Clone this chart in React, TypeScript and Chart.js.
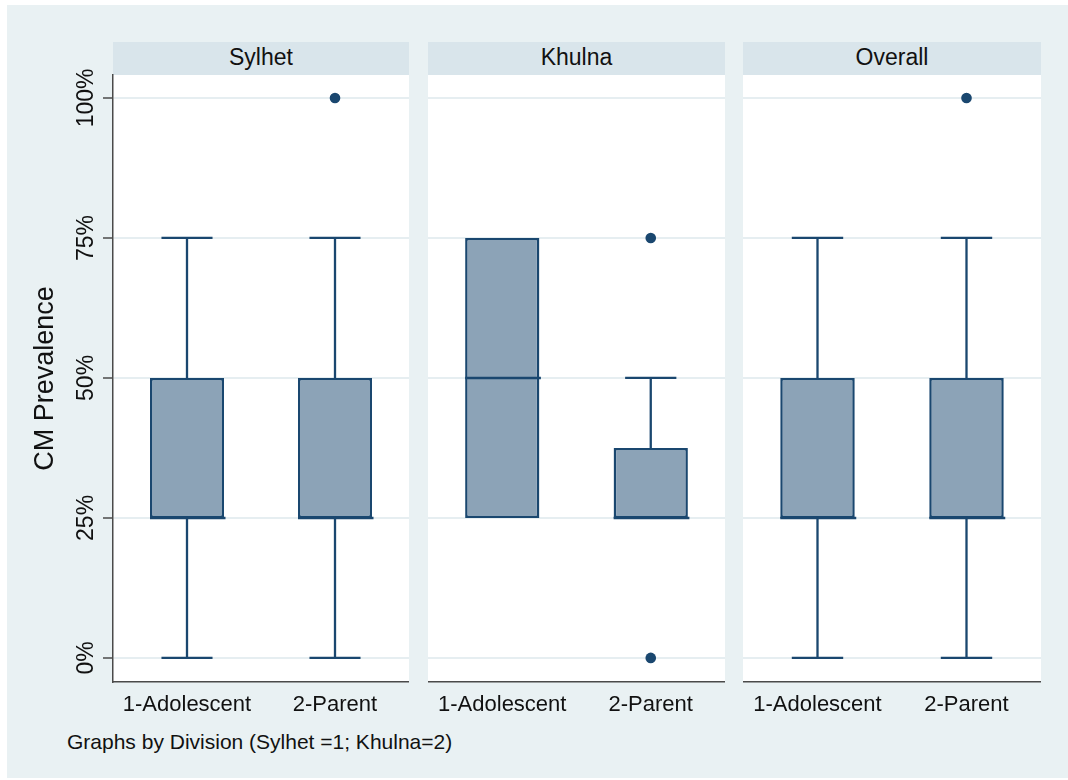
import React, { useEffect, useRef } from 'react';
import { Chart, registerables } from 'chart.js';

Chart.register(...registerables);

// ---------------- data ----------------
const categories = ['1-Adolescent', '2-Parent'];
const panelTitles = ['Sylhet', 'Khulna', 'Overall'];
const yTicks = [0, 25, 50, 75, 100];
const yAxisTitle = 'CM Prevalence';
const footnote = 'Graphs by Division (Sylhet =1; Khulna=2)';

// Sylhet
const sylhetLow = [0, 0];
const sylhetQ1 = [25, 25];
const sylhetMedian = [25, 25];
const sylhetQ3 = [50, 50];
const sylhetHigh = [75, 75];
const sylhetOutliers = [[], [100]];

// Khulna
const khulnaLow = [25, 25];
const khulnaQ1 = [25, 25];
const khulnaMedian = [50, 25];
const khulnaQ3 = [75, 37.5];
const khulnaHigh = [75, 50];
const khulnaOutliers = [[], [75, 0]];

// Overall
const overallLow = [0, 0];
const overallQ1 = [25, 25];
const overallMedian = [25, 25];
const overallQ3 = [50, 50];
const overallHigh = [75, 75];
const overallOutliers = [[], [100]];

const yMin = -4.3;
const yMax = 104.1;

// ---------------- style ----------------
const FONT = '"Liberation Sans", Arial, Helvetica, sans-serif';
const NAVY = '#1a476f';
const BOX_FILL = '#8ca3b7';
const GRID = '#e6eef1';
const AXIS = '#4a4a4a';
const TEXT = '#111111';
const BG = '#e9f1f3';
const STRIP = '#d9e5eb';

type Stats = {
  low: number[];
  q1: number[];
  median: number[];
  q3: number[];
  high: number[];
  outliers: number[][];
};

const panelStats: Stats[] = [
  { low: sylhetLow, q1: sylhetQ1, median: sylhetMedian, q3: sylhetQ3, high: sylhetHigh, outliers: sylhetOutliers },
  { low: khulnaLow, q1: khulnaQ1, median: khulnaMedian, q3: khulnaQ3, high: khulnaHigh, outliers: khulnaOutliers },
  { low: overallLow, q1: overallQ1, median: overallMedian, q3: overallQ3, high: overallHigh, outliers: overallOutliers },
];

// white plot region
const plotBgPlugin = {
  id: 'plotBg',
  beforeDraw(chart: any) {
    const { ctx, chartArea } = chart;
    if (!chartArea) return;
    ctx.save();
    ctx.fillStyle = '#ffffff';
    ctx.fillRect(chartArea.left, chartArea.top, chartArea.right - chartArea.left, chartArea.bottom - chartArea.top);
    ctx.restore();
  },
};

// whiskers + median drawn through the library's scales
const boxPlugin = {
  id: 'boxWhiskers',
  afterDatasetsDraw(chart: any, _args: any, opts: any) {
    const meta = chart.getDatasetMeta(0);
    const ys = chart.scales.y;
    const ctx = chart.ctx;
    ctx.save();
    ctx.strokeStyle = NAVY;
    ctx.lineCap = 'butt';
    meta.data.forEach((bar: any, i: number) => {
      const { x, width } = bar.getProps(['x', 'width'], true);
      const cap = width * 0.69;
      const pq1 = ys.getPixelForValue(opts.q1[i]);
      const pq3 = ys.getPixelForValue(opts.q3[i]);
      const pHi = ys.getPixelForValue(opts.high[i]);
      const pLo = ys.getPixelForValue(opts.low[i]);
      const pMed = ys.getPixelForValue(opts.median[i]);
      ctx.lineWidth = 2.3;
      ctx.beginPath();
      if (opts.high[i] > opts.q3[i]) {
        ctx.moveTo(x, pq3);
        ctx.lineTo(x, pHi);
        ctx.moveTo(x - cap / 2, pHi);
        ctx.lineTo(x + cap / 2, pHi);
      }
      if (opts.low[i] < opts.q1[i]) {
        ctx.moveTo(x, pq1);
        ctx.lineTo(x, pLo);
        ctx.moveTo(x - cap / 2, pLo);
        ctx.lineTo(x + cap / 2, pLo);
      }
      ctx.stroke();
      ctx.beginPath();
      ctx.lineWidth = 2.6;
      ctx.moveTo(x - width / 2, pMed);
      ctx.lineTo(x + width / 2 + 1.5, pMed);
      ctx.stroke();
    });
    ctx.restore();
  },
};

// vertical (rotated) y tick labels
const yLabelPlugin = {
  id: 'yRotLabels',
  afterDraw(chart: any, _args: any, opts: any) {
    if (!opts || !opts.show) return;
    const ys = chart.scales.y;
    const ctx = chart.ctx;
    ctx.save();
    ctx.fillStyle = TEXT;
    ctx.font = `23px ${FONT}`;
    ctx.textAlign = 'center';
    ctx.textBaseline = 'alphabetic';
    ys.ticks.forEach((t: any) => {
      const py = ys.getPixelForValue(t.value);
      ctx.save();
      ctx.translate(opts.baselineX, py);
      ctx.rotate(-Math.PI / 2);
      ctx.fillText(`${t.value}%`, 0, 0);
      ctx.restore();
    });
    ctx.restore();
  },
};

const STRIP_TOP = 42;
const STRIP_H = 33;
const CANVAS_H = 688;
const X_AXIS_H = 48;

type PanelProps = { stats: Stats; left: number; width: number; axisWidth: number; showAxis: boolean };

function Panel({ stats, left, width, axisWidth, showAxis }: PanelProps) {
  const ref = useRef<HTMLCanvasElement | null>(null);
  useEffect(() => {
    if (!ref.current) return;
    const outlierPoints = stats.outliers.flatMap((arr, i) => arr.map((v) => ({ x: categories[i], y: v })));
    const chart = new Chart(ref.current, {
      type: 'bar',
      data: {
        labels: categories,
        datasets: [
          {
            type: 'bar',
            data: stats.q1.map((v, i) => [v, stats.q3[i]]) as any,
            backgroundColor: BOX_FILL,
            borderColor: NAVY,
            borderWidth: 2.5,
            borderSkipped: false,
            barPercentage: 0.5,
            categoryPercentage: 1,
          } as any,
          {
            type: 'line',
            data: outlierPoints as any,
            showLine: false,
            pointRadius: 5.3,
            pointBackgroundColor: NAVY,
            pointBorderColor: NAVY,
            pointBorderWidth: 0,
          } as any,
        ],
      },
      options: {
        responsive: false,
        animation: false,
        layout: { padding: { top: STRIP_H, left: 0, right: 0, bottom: 0 }, autoPadding: false },
        plugins: {
          legend: { display: false },
          tooltip: { enabled: false },
          boxWhiskers: stats,
          yRotLabels: { show: showAxis, baselineX: 93 - 7 },
        } as any,
        scales: {
          x: {
            type: 'category',
            offset: true,
            grid: { display: false, drawTicks: false },
            border: { display: true, color: AXIS, width: 1.5 },
            ticks: {
              color: TEXT,
              font: { family: FONT, size: 22 },
              padding: 10,
              maxRotation: 0,
              minRotation: 0,
              autoSkip: false,
            },
            afterFit: (s: any) => {
              s.height = X_AXIS_H;
            },
          },
          y: {
            min: yMin,
            max: yMax,
            afterBuildTicks: (s: any) => {
              s.ticks = yTicks.map((v) => ({ value: v }));
            },
            grid: {
              color: GRID,
              lineWidth: 2,
              drawTicks: showAxis,
              tickLength: 10,
              tickColor: AXIS,
              tickWidth: 1.5,
            },
            border: { display: showAxis, color: AXIS, width: 1.5 },
            ticks: { display: false },
            title: {
              display: showAxis,
              text: yAxisTitle,
              color: TEXT,
              font: { family: FONT, size: 27 },
              padding: { top: 22, bottom: 0 },
            },
            afterFit: (s: any) => {
              s.width = axisWidth;
            },
          },
        } as any,
      },
      plugins: [plotBgPlugin, boxPlugin, yLabelPlugin],
    });
    return () => chart.destroy();
  }, [stats, width, axisWidth, showAxis]);
  return (
    <canvas
      ref={ref}
      width={width}
      height={CANVAS_H}
      style={{ position: 'absolute', left, top: STRIP_TOP, width, height: CANVAS_H, display: 'block' }}
    />
  );
}

const panelPlots = [
  { left: 113, right: 409 },
  { left: 428, right: 725 },
  { left: 743, right: 1041 },
];

export default function App() {
  return (
    <div style={{ position: 'absolute', left: 0, top: 0, width: 1068, height: 780, background: '#ffffff', overflow: 'hidden' }}>
      <div style={{ position: 'absolute', left: 7, top: 5, width: 1061, height: 773, background: BG }} />
      {panelPlots.map((p, i) => (
        <div
          key={`h${i}`}
          style={{
            position: 'absolute',
            left: p.left,
            top: STRIP_TOP,
            width: p.right - p.left,
            height: STRIP_H,
            lineHeight: '30px',
            background: STRIP,
            color: TEXT,
            fontFamily: FONT,
            fontSize: 23,
            textAlign: 'center',
          }}
        >
          {panelTitles[i]}
        </div>
      ))}
      {panelPlots.map((p, i) => {
        const showAxis = i === 0;
        const canvasLeft = showAxis ? 7 : p.left;
        const axisWidth = showAxis ? p.left - 7 : 0;
        return (
          <Panel
            key={`p${i}`}
            stats={panelStats[i]}
            left={canvasLeft}
            width={p.right - canvasLeft}
            axisWidth={axisWidth}
            showAxis={showAxis}
          />
        );
      })}
      <div
        style={{
          position: 'absolute',
          left: 67,
          top: 731,
          fontFamily: FONT,
          fontSize: 21,
          lineHeight: '21px',
          color: TEXT,
          whiteSpace: 'nowrap',
        }}
      >
        {footnote}
      </div>
    </div>
  );
}
